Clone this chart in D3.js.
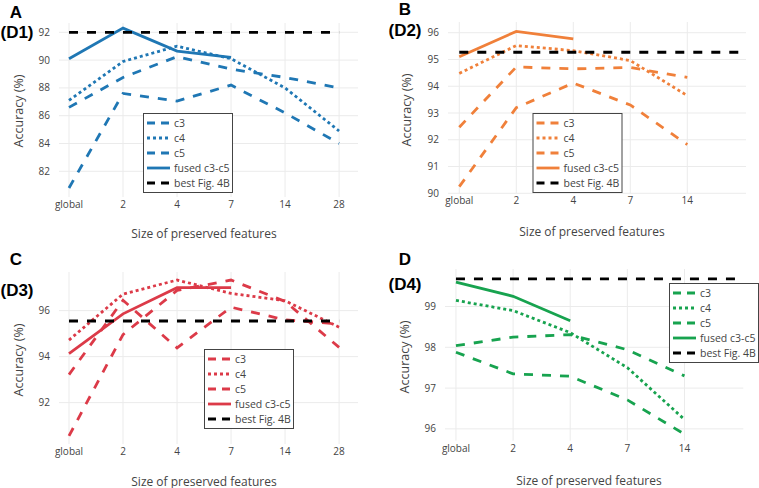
<!DOCTYPE html>
<html>
<head>
<meta charset="utf-8">
<style>
  body { margin: 0; background: #fff; }
  svg { display: block; }
  text { font-family: "Open Sans", "DejaVu Sans", sans-serif; fill: #444; }
  .panel-label { font-family: "Liberation Sans", Arial, sans-serif; font-weight: bold; fill: #000; }
</style>
<title>Accuracy vs size of preserved features</title>
</head>
<body>
<svg id="chart"></svg>
<script src="https://cdn.jsdelivr.net/npm/d3@7"></script>
<script>

// ============ Data ============
var categories = ["global", "2", "4", "7", "14", "28"];

// (D1)
var d1_c3    = [80.8, 87.6, 87.05, 88.2, 86.2, 84.0];
var d1_c4    = [87.1, 89.9, 91.0, 90.1, 88.0, 84.9];
var d1_c5    = [86.6, 88.75, 90.25, 89.35, 88.75, 88.0];
var d1_fused = [90.1, 92.3, 90.65, 90.2];
var d1_best  = 92.0;

// (D2)
var d2_c3    = [90.25, 93.2, 94.12, 93.3, 91.82];
var d2_c4    = [94.48, 95.52, 95.33, 94.96, 93.65];
var d2_c5    = [92.47, 94.72, 94.65, 94.7, 94.33];
var d2_fused = [95.1, 96.05, 95.77];
var d2_best  = 95.27;

// (D3)
var d3_c3    = [90.55, 94.96, 96.88, 97.33, 96.4, 94.4];
var d3_c4    = [94.72, 96.72, 97.33, 96.75, 96.43, 95.28];
var d3_c5    = [93.22, 96.45, 94.38, 96.15, 95.6, 95.42];
var d3_fused = [94.13, 95.86, 97.0, 97.0];
var d3_best  = 95.55;

// (D4)
var d4_c3    = [97.88, 97.35, 97.29, 96.71, 95.87];
var d4_c4    = [99.15, 98.9, 98.36, 97.5, 96.23];
var d4_c5    = [98.04, 98.25, 98.31, 97.94, 97.3];
var d4_fused = [99.6, 99.25, 98.65];
var d4_best  = 99.68;

var yTicks1 = [82, 84, 86, 88, 90, 92];
var yTicks2 = [90, 91, 92, 93, 94, 95, 96];
var yTicks3 = [92, 94, 96];
var yTicks4 = [96, 97, 98, 99];

var legendNames = ["c3", "c4", "c5", "fused c3-c5", "best Fig. 4B"];

// ============ Layout ============
var W = 759, H = 488;
var DASH = "9,9", DOT = "3,3";

var panels = [
  { letter: "A", tag: "(D1)", color: "#1f77b4", nCat: 6,
    c3: d1_c3, c4: d1_c4, c5: d1_c5, fused: d1_fused, best: d1_best, ticks: yTicks1,
    left: 59, right: 358, top: 23, bottom: 197, xDom: [-0.185, 5.35], yDom: [80.15, 92.67],
    letterPos: [16, 18], tagPos: [17, 38], yTitle: [19, 111], xTitle: [204, 237.5],
    legend: [143, 113] },
  { letter: "B", tag: "(D2)", color: "#f0803a", nCat: 5,
    c3: d2_c3, c4: d2_c4, c5: d2_c5, fused: d2_fused, best: d2_best, ticks: yTicks2,
    left: 448, right: 746, top: 22, bottom: 193.3, xDom: [-0.198, 5.03], yDom: [90, 96.4],
    letterPos: [405, 14.5], tagPos: [405, 36], yTitle: [407, 110], xTitle: [592, 235.5],
    legend: [532.5, 113] },
  { letter: "C", tag: "(D3)", color: "#dc3a48", nCat: 6,
    c3: d3_c3, c4: d3_c4, c5: d3_c5, fused: d3_fused, best: d3_best, ticks: yTicks3,
    left: 59, right: 358, top: 272, bottom: 444, xDom: [-0.185, 5.35], yDom: [90.2, 97.68],
    letterPos: [16, 265], tagPos: [17, 296], yTitle: [19, 360], xTitle: [204, 485.5],
    legend: [204, 349] },
  { letter: "D", tag: "(D4)", color: "#17a34f", nCat: 5,
    c3: d4_c3, c4: d4_c4, c5: d4_c5, fused: d4_fused, best: d4_best, ticks: yTicks4,
    left: 445, right: 743.3, top: 269, bottom: 440.7, xDom: [-0.192, 5.03], yDom: [95.71, 99.92],
    letterPos: [405, 265], tagPos: [405, 290], yTitle: [405, 357], xTitle: [589, 484.5],
    legend: [669, 283] }
];

var svg = d3.select("#chart").attr("width", W).attr("height", H);

panels.forEach(function(p) {
  var g = svg.append("g");

  var x = d3.scaleLinear().domain(p.xDom).range([p.left, p.right]);
  var y = d3.scaleLinear().domain(p.yDom).range([p.bottom, p.top]);

  var cats = categories.slice(0, p.nCat);

  // grid lines
  g.append("g").selectAll("line.v").data(cats).enter().append("line")
      .attr("x1", (d, i) => x(i)).attr("x2", (d, i) => x(i))
      .attr("y1", p.top).attr("y2", p.bottom)
      .attr("stroke", "#ebebeb").attr("stroke-width", 1);
  g.append("g").selectAll("line.h").data(p.ticks).enter().append("line")
      .attr("x1", p.left).attr("x2", p.right)
      .attr("y1", d => y(d)).attr("y2", d => y(d))
      .attr("stroke", "#ebebeb").attr("stroke-width", 1);

  // tick labels
  g.append("g").selectAll("text").data(cats).enter().append("text")
      .attr("x", (d, i) => x(i)).attr("y", p.bottom + 11)
      .attr("text-anchor", "middle").style("font-size", "10px")
      .text(d => d);
  g.append("g").selectAll("text").data(p.ticks).enter().append("text")
      .attr("x", p.left - 9).attr("y", d => y(d) + 3.5)
      .attr("text-anchor", "end").style("font-size", "10px")
      .text(d => d);

  // axis titles
  g.append("text")
      .attr("transform", `translate(${p.yTitle[0] + 4}, ${p.yTitle[1]}) rotate(-90)`)
      .attr("text-anchor", "middle").style("font-size", "12.5px")
      .text("Accuracy (%)");
  g.append("text")
      .attr("x", p.xTitle[0]).attr("y", p.xTitle[1])
      .attr("text-anchor", "middle").style("font-size", "12px")
      .text("Size of preserved features");

  var line = d3.line().x((d, i) => x(i)).y(d => y(d));

  var series = [
    { v: p.c3, dash: DASH, color: p.color },
    { v: p.c4, dash: DOT, color: p.color },
    { v: p.c5, dash: DASH, color: p.color },
    { v: p.fused, dash: null, color: p.color }
  ];
  series.forEach(function(s) {
    g.append("path").datum(s.v)
        .attr("d", line)
        .attr("fill", "none")
        .attr("stroke", s.color)
        .attr("stroke-width", 2.8)
        .attr("stroke-dasharray", s.dash);
  });

  // best Fig. 4B reference over all six positions
  var bestLine = categories.map(() => p.best);
  g.append("path").datum(bestLine)
      .attr("d", line)
      .attr("fill", "none")
      .attr("stroke", "#000")
      .attr("stroke-width", 2.8)
      .attr("stroke-dasharray", DASH);

  // legend
  var lg = g.append("g").attr("transform", `translate(${p.legend[0]}, ${p.legend[1]})`);
  lg.append("rect")
      .attr("x", 0.5).attr("y", 0.5).attr("width", 89).attr("height", 79)
      .attr("fill", "#fff").attr("stroke", "#444").attr("stroke-width", 1);
  var styles = [DASH, DOT, DASH, null, DASH];
  legendNames.forEach(function(name, i) {
    var yy = 10 + i * 15;
    lg.append("line")
        .attr("x1", 4).attr("x2", 27).attr("y1", yy).attr("y2", yy)
        .attr("stroke", i == 4 ? "#000" : p.color)
        .attr("stroke-width", 2.8)
        .attr("stroke-dasharray", styles[i] == DASH ? "8,6" : styles[i]);
    lg.append("text")
        .attr("x", 31).attr("y", yy + 3.8)
        .style("font-size", "10.5px")
        .text(name);
  });

  // panel labels
  g.append("text").attr("class", "panel-label")
      .attr("x", p.letterPos[0]).attr("y", p.letterPos[1])
      .attr("text-anchor", "middle").style("font-size", "17px")
      .text(p.letter);
  g.append("text").attr("class", "panel-label")
      .attr("x", p.tagPos[0]).attr("y", p.tagPos[1])
      .attr("text-anchor", "middle").style("font-size", "17px")
      .text(p.tag);
});

</script>
</body>
</html>
